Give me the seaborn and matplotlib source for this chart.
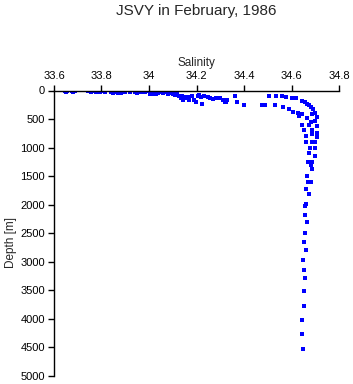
import matplotlib
matplotlib.use("Agg")
import matplotlib.pyplot as plt
import matplotlib.ticker as mticker
import pandas as pd
import seaborn as sns

TITLE = "JSVY in February, 1986"

# salinity / depth [m]
salinity = [
    33.645, 33.650, 33.655, 33.675, 33.680, 33.688,
    33.745, 33.755, 33.765, 33.775, 33.785, 33.792, 33.800,
    33.815, 33.840, 33.848, 33.858, 33.868, 33.880,
    33.900, 33.920, 33.940, 33.950, 33.958, 33.968, 33.975, 33.985,
    34.003, 34.020, 34.030, 34.038,
    34.000, 34.005, 34.020, 34.035, 34.048, 34.060, 34.070, 34.080, 34.090, 34.100,
    34.110, 34.120, 34.128, 34.135, 34.140, 34.145, 34.150, 34.158, 34.165, 34.170,
    34.180, 34.190, 34.198, 34.205, 34.210, 34.220, 34.225, 34.230, 34.250, 34.258,
    34.270, 34.280, 34.300, 34.310, 34.318, 34.325, 34.330, 34.360, 34.370, 34.400,
    34.475, 34.490, 34.506, 34.530, 34.535, 34.560, 34.565, 34.578, 34.590, 34.600,
    34.607, 34.620, 34.628, 34.630, 34.645, 34.655, 34.666, 34.675, 34.683, 34.690,
    34.700, 34.687, 34.645, 34.708, 34.666, 34.700, 34.683, 34.645, 34.674, 34.708,
    34.653, 34.687, 34.708, 34.687, 34.662, 34.708, 34.662, 34.687, 34.700, 34.679,
    34.700, 34.674, 34.700,
    34.670, 34.687, 34.680, 34.687, 34.666, 34.683, 34.670, 34.662, 34.674, 34.662,
    34.657, 34.658, 34.665, 34.658, 34.654, 34.660, 34.650, 34.654, 34.657, 34.654,
    34.654, 34.646, 34.646, 34.648,
]
depth = [
    10, 25, 5, 15, 30, 10,
    5, 20, 10, 25, 15, 30, 10,
    20, 25, 40, 35, 45, 40,
    30, 35, 20, 40, 30, 15, 25, 20,
    55, 70, 60, 50,
    15, 40, 55, 40, 30, 45, 35, 55, 45, 60,
    80, 70, 100, 130, 90, 160, 110, 140, 120, 175,
    90, 160, 200, 100, 80, 120, 230, 90, 110, 130,
    150, 140, 130, 170, 200, 210, 175, 90, 210, 260,
    260, 260, 105, 260, 105, 105, 290, 120, 330, 140,
    380, 140, 400, 440, 190, 200, 230, 260, 290, 330,
    390, 410, 410, 470, 490, 530, 560, 600, 600, 630,
    700, 700, 740, 770, 790, 820, 910, 910, 910, 1000,
    1000, 1090, 1140,
    1250, 1250, 1300, 1370, 1490, 1600, 1610, 1720, 1810, 1980,
    2030, 2180, 2310, 2490, 2650, 2790, 2970, 3140, 3280, 3510,
    3770, 4020, 4260, 4530,
]

x_ticks = [33.6, 33.8, 34.0, 34.2, 34.4, 34.6, 34.8]
y_ticks = [0, 500, 1000, 1500, 2000, 2500, 3000, 3500, 4000, 4500, 5000]


def main():
    sns.set_style("ticks")
    plt.rcParams["font.family"] = ["Liberation Sans", "DejaVu Sans"]

    df = pd.DataFrame({"Salinity": salinity, "Depth": depth})

    fig = plt.figure(figsize=(3.53, 3.84), dpi=100)
    ax = fig.add_axes([54 / 353, 1 - 376 / 384, 285 / 353, 285.5 / 384])

    sns.scatterplot(data=df, x="Salinity", y="Depth", ax=ax, marker="s",
                    s=5, color="#0000ff", linewidth=0)

    ax.set_xlim(33.6, 34.8)
    ax.set_ylim(5000, 0)
    ax.set_xticks(x_ticks)
    ax.set_yticks(y_ticks)
    ax.xaxis.set_major_formatter(mticker.FuncFormatter(lambda v, p: f"{v:g}"))

    ax.xaxis.tick_top()
    ax.xaxis.set_label_position("top")
    for side in ("right", "bottom"):
        ax.spines[side].set_visible(False)
    for side in ("left", "top"):
        ax.spines[side].set_linewidth(1.0)
        ax.spines[side].set_color("black")
    ax.tick_params(axis="both", direction="out", length=4, width=1.0,
                   labelsize=8, pad=2.5, colors="black")

    ax.set_xlabel("Salinity", fontsize=8.5)
    ax.set_ylabel("Depth [m]", fontsize=8.5)
    ax.xaxis.set_label_coords(0.5, 1.086)
    ax.yaxis.set_label_coords(-0.13, 0.469)

    ax.set_title(TITLE, fontsize=11, y=1.265, pad=0)

    fig.savefig("out.png", dpi=100)


if __name__ == "__main__":
    main()
